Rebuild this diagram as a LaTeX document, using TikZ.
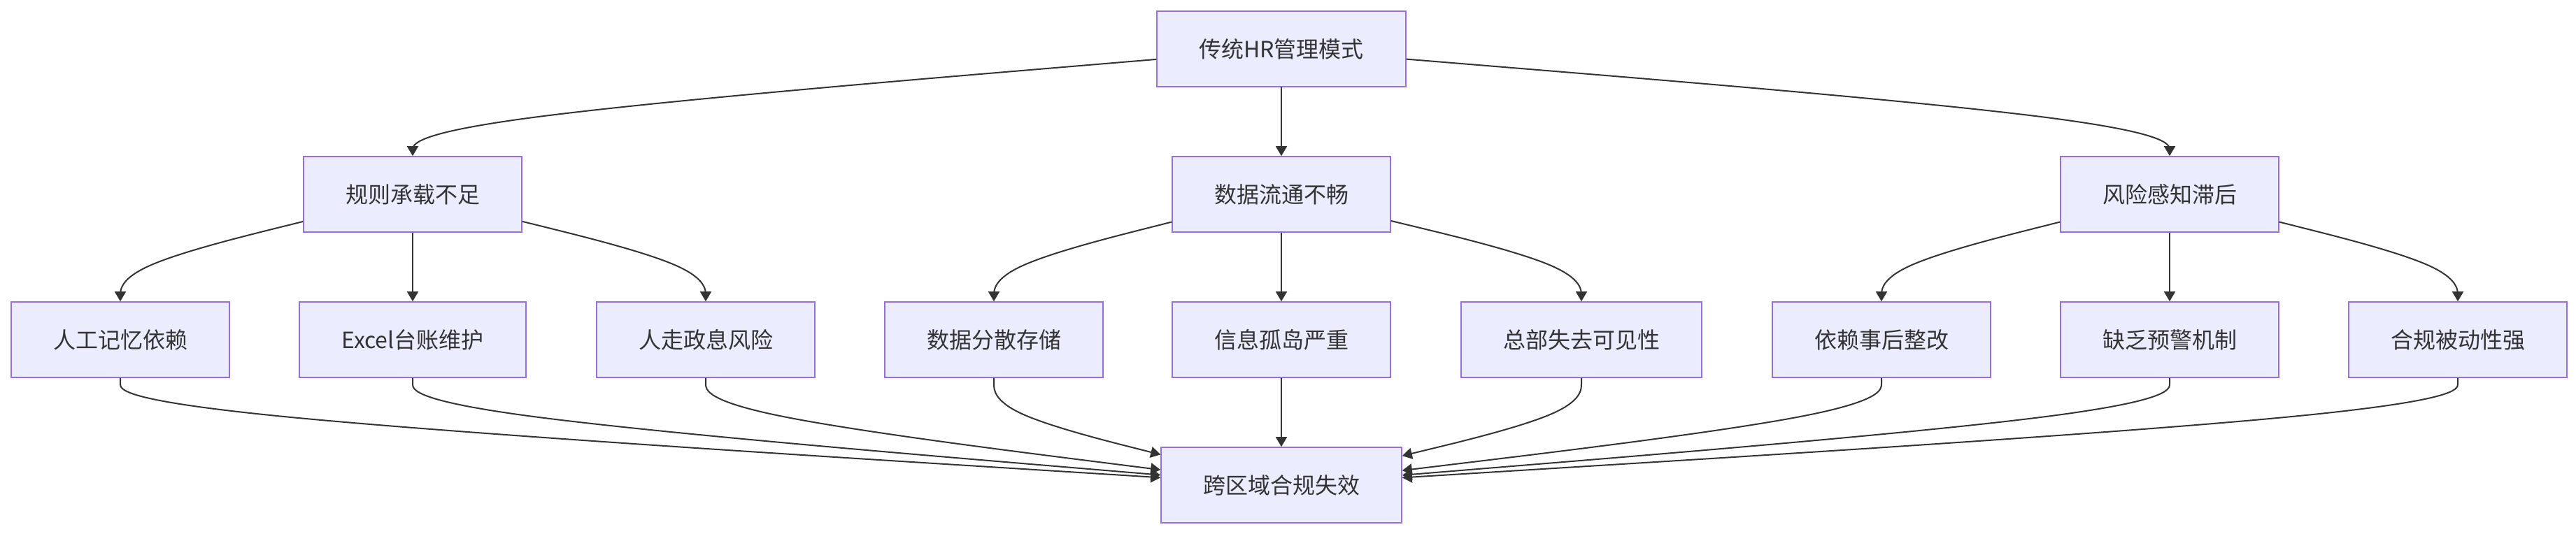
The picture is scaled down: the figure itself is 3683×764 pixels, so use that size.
\documentclass[tikz,border=0pt]{standalone}
\usepackage{fontspec}
\setmainfont{Noto Sans CJK SC}
\usetikzlibrary{calc,arrows.meta}

\definecolor{edgecol}{HTML}{333333}
\definecolor{boxfill}{HTML}{ECECFF}
\definecolor{boxline}{HTML}{9370DB}

% curved connector: start node, bend point, end node
\newcommand{\basisedge}[3]{%
  \path (#2) coordinate (bp) -- coordinate[pos=1] (sp) (#1);
  \path (bp) -- coordinate[pos=1] (tp) (#3);
  \path ($(sp)!2/3!(bp)$) coordinate (q2) ($(bp)!1/3!(tp)$) coordinate (q3);
  \draw[edge] (sp) -- ($(sp)!1/6!(bp)$)
    .. controls ($(sp)!1/3!(bp)$) and (q2) .. ($(q2)!.5!(q3)$)
    .. controls (q3) and ($(bp)!2/3!(tp)$) .. ($(bp)!5/6!(tp)$) -- (tp);
}

\begin{document}
\begin{tikzpicture}[x=0.5pt,y=0.5pt,
    box/.style={draw=boxline,fill=boxfill,line width=0.8pt,text=edgecol,
      inner xsep=30pt,inner ysep=0pt,minimum height=54pt,
      font=\fontsize{16pt}{19pt}\selectfont},
    edge/.style={draw=edgecol,line width=1pt,-{Triangle[length=7pt,width=8pt]}}]
  \useasboundingbox (0,0) rectangle (3683,-764);
  % row midlines for the bends
  \coordinate (m1) at (0,-174);
  \coordinate (m2) at (0,-382);
  \coordinate (m3) at (0,-590);
  % top
  \node[box] (hr) at (1832,-70) {传统HR管理模式};
  % second row
  \node[box] (rule) at (590,-278) {规则承载不足};
  \node[box] (data) at (1832,-278) {数据流通不畅};
  \node[box] (risk) at (3102,-278) {风险感知滞后};
  % third row
  \node[box] (mem) at (172,-486) {人工记忆依赖};
  \node[box] (excel) at (590,-486) {Excel台账维护};
  \node[box] (leave) at (1009,-486) {人走政息风险};
  \node[box] (scatter) at (1421,-486) {数据分散存储};
  \node[box] (island) at (1832,-486) {信息孤岛严重};
  \node[box] (hq) at (2261,-486) {总部失去可见性};
  \node[box] (after) at (2690,-486) {依赖事后整改};
  \node[box] (warn) at (3102,-486) {缺乏预警机制};
  \node[box] (passive) at (3514,-486) {合规被动性强};
  % bottom
  \node[box] (fail) at (1832,-694) {跨区域合规失效};
  % top to second row
  \basisedge{hr}{rule |- m1}{rule}
  \draw[edge] (hr) -- (data);
  \basisedge{hr}{risk |- m1}{risk}
  % second to third row
  \basisedge{rule}{mem |- m2}{mem}
  \draw[edge] (rule) -- (excel);
  \basisedge{rule}{leave |- m2}{leave}
  \basisedge{data}{scatter |- m2}{scatter}
  \draw[edge] (data) -- (island);
  \basisedge{data}{hq |- m2}{hq}
  \basisedge{risk}{after |- m2}{after}
  \draw[edge] (risk) -- (warn);
  \basisedge{risk}{passive |- m2}{passive}
  % third row to bottom
  \basisedge{mem}{mem |- m3}{fail}
  \basisedge{excel}{excel |- m3}{fail}
  \basisedge{leave}{leave |- m3}{fail}
  \basisedge{scatter}{scatter |- m3}{fail}
  \draw[edge] (island) -- (fail);
  \basisedge{hq}{hq |- m3}{fail}
  \basisedge{after}{after |- m3}{fail}
  \basisedge{warn}{warn |- m3}{fail}
  \basisedge{passive}{passive |- m3}{fail}
\end{tikzpicture}
\end{document}
